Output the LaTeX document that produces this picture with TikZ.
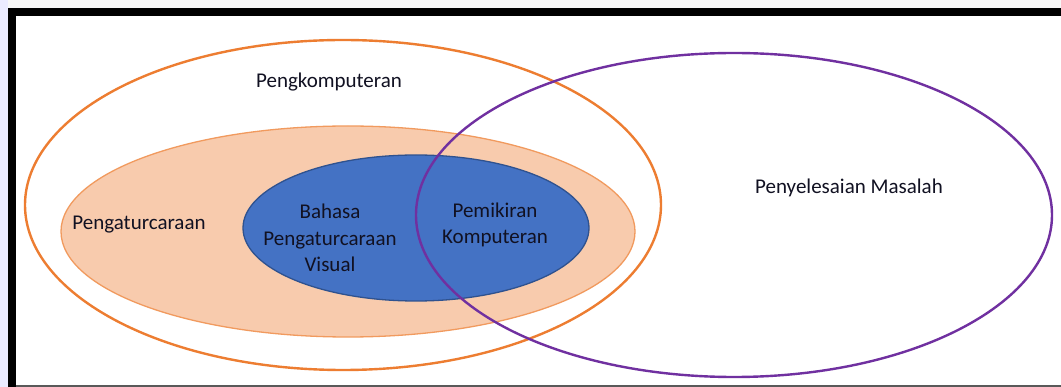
\documentclass[tikz,border=0pt]{standalone}
\usepackage{fontspec}
\setmainfont{Carlito}
\definecolor{orng}{HTML}{ED7D31}
\definecolor{peach}{HTML}{F8CBAD}
\definecolor{peachline}{HTML}{F19A5E}
\definecolor{blu}{HTML}{4472C4}
\definecolor{bluline}{HTML}{2F528F}
\definecolor{purp}{HTML}{7030A0}
\definecolor{txt}{HTML}{111122}
\tikzset{
  lbl/.style={text=txt, font=\fontsize{21}{26.5}\selectfont, align=center, inner sep=0pt}
}
\begin{document}
\begin{tikzpicture}[x=1pt,y=-1pt]
\useasboundingbox (0,0) rectangle (1061,387);
% background strips
\fill[white] (0,0) rectangle (1061,387);
\fill[blue!8!white] (0,0) rectangle (8,387);
\fill[gray!6!white] (8,0) rectangle (1061,8);
% frame
\fill[black] (8,8) rectangle (1061,16);
\fill[black] (8,8) rectangle (16,387);
\fill[gray!70!black] (16,385) rectangle (1061,387);
% ellipses
\draw[orng, line width=2.4pt] (343,205) ellipse [x radius=318, y radius=165];
\draw[peachline, fill=peach, line width=1.3pt] (348,231.5) ellipse [x radius=287, y radius=105.5];
\draw[bluline, fill=blu, line width=1.3pt] (416,228) ellipse [x radius=173, y radius=73];
\draw[purp, line width=2.4pt] (734,215) ellipse [x radius=318, y radius=162];
% labels
\node[lbl] (komp) at (329,82) {Pengkomputeran};
\node[lbl] (prog) at (139,225) {Pengaturcaraan};
\node[lbl] (bahasa) at (330,238) {Bahasa\\Pengaturcaraan\\Visual};
\node[lbl] (pemik) at (495,225) {Pemikiran\\Komputeran};
\node[lbl] (masalah) at (849,188) {Penyelesaian Masalah};
\end{tikzpicture}
\end{document}
